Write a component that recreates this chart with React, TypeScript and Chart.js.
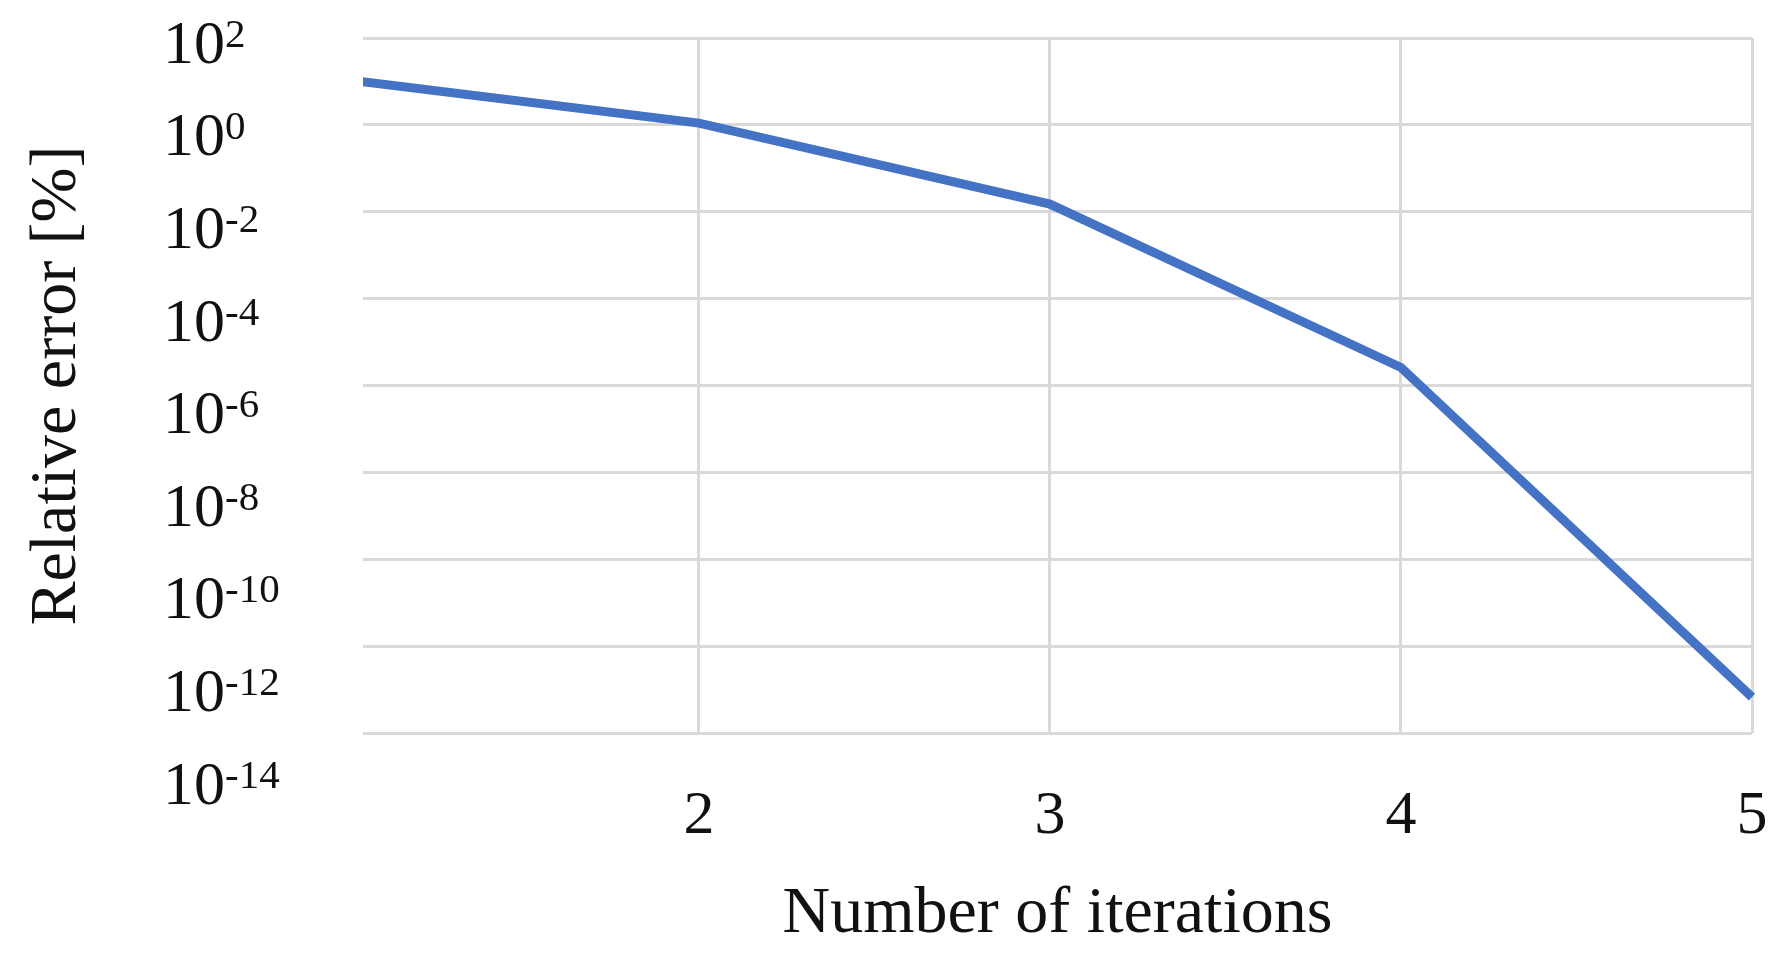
import React, { useEffect, useRef } from "react";
import { Chart, registerables } from "chart.js";

Chart.register(...registerables);

// ---- data ----
const iterations = [1, 2, 3, 4, 5];
const relativeError = [10.9, 1.1, 0.015, 2.6e-6, 6.7e-14];
const xTickValues = [2, 3, 4, 5];
const yTickExponents = [2, 0, -2, -4, -6, -8, -10, -12, -14];
const xTitle = "Number of iterations";
const yTitle = "Relative error [%]";

const FONT = '"Liberation Serif", "Times New Roman", serif';

const superscriptLabels = {
  id: "superscriptLabels",
  afterDraw(chart: any) {
    const { ctx, chartArea, scales } = chart;
    const y = scales.y;
    ctx.save();
    ctx.fillStyle = "#111";
    ctx.textAlign = "left";
    ctx.textBaseline = "middle";
    const baseX = chartArea.left - 200;
    for (const e of yTickExponents) {
      const py = y.getPixelForValue(Math.pow(10, e));
      const ly = chartArea.top + 8.5 + (py - chartArea.top) * 1.066;
      ctx.font = `62px ${FONT}`;
      ctx.fillText("10", baseX, ly);
      const w = ctx.measureText("10").width;
      ctx.font = `41px ${FONT}`;
      ctx.fillText(String(e), baseX + w, ly - 10.5);
    }
    ctx.restore();
  },
};

export default function App() {
  const canvasRef = useRef<HTMLCanvasElement | null>(null);

  useEffect(() => {
    if (!canvasRef.current) return;
    const chart = new Chart(canvasRef.current, {
      type: "line",
      data: {
        datasets: [
          {
            data: iterations.map((x, i) => ({ x, y: relativeError[i] })),
            borderColor: "#4472c4",
            backgroundColor: "#4472c4",
            borderWidth: 9,
            pointRadius: 0,
            tension: 0,
            clip: { left: 0, right: 6, top: 6, bottom: 6 } as any,
          },
        ],
      },
      options: {
        animation: false,
        responsive: true,
        maintainAspectRatio: false,
        layout: { padding: { left: 0, right: 33, top: 38, bottom: 0 } },
        plugins: {
          legend: { display: false },
          tooltip: { enabled: false },
        },
        scales: {
          x: {
            type: "linear",
            min: 1.043,
            max: 5,
            afterBuildTicks: (scale: any) => {
              scale.ticks = xTickValues.map((v) => ({ value: v }));
            },
            afterFit: (scale: any) => {
              scale.height = 233;
            },
            grid: {
              color: "#d9d9d9",
              lineWidth: 3,
              drawTicks: true,
              tickLength: 45,
              tickColor: "rgba(0,0,0,0)",
            },
            border: { display: false },
            ticks: {
              color: "#111",
              font: { family: FONT, size: 62 },
              padding: 2,
              maxRotation: 0,
            },
            title: {
              display: true,
              text: xTitle,
              color: "#111",
              font: { family: FONT, size: 66 },
              padding: { top: 0, bottom: 12 },
            },
          },
          y: {
            type: "logarithmic",
            min: 1e-14,
            max: 1e2,
            afterBuildTicks: (scale: any) => {
              scale.ticks = yTickExponents.map((e) => ({ value: Math.pow(10, e) }));
            },
            afterFit: (scale: any) => {
              scale.width = 363;
            },
            grid: { color: "#d9d9d9", lineWidth: 3, drawTicks: false },
            border: { display: false },
            ticks: { display: false },
            title: {
              display: true,
              text: yTitle,
              color: "#111",
              font: { family: FONT, size: 66 },
              padding: { top: 18, bottom: 0 },
            },
          },
        },
      },
      plugins: [superscriptLabels],
    });
    return () => chart.destroy();
  }, []);

  return (
    <div
      style={{
        position: "fixed",
        left: 0,
        top: 0,
        width: "1785px",
        height: "966px",
        background: "#fff",
      }}
    >
      <canvas ref={canvasRef} />
    </div>
  );
}
